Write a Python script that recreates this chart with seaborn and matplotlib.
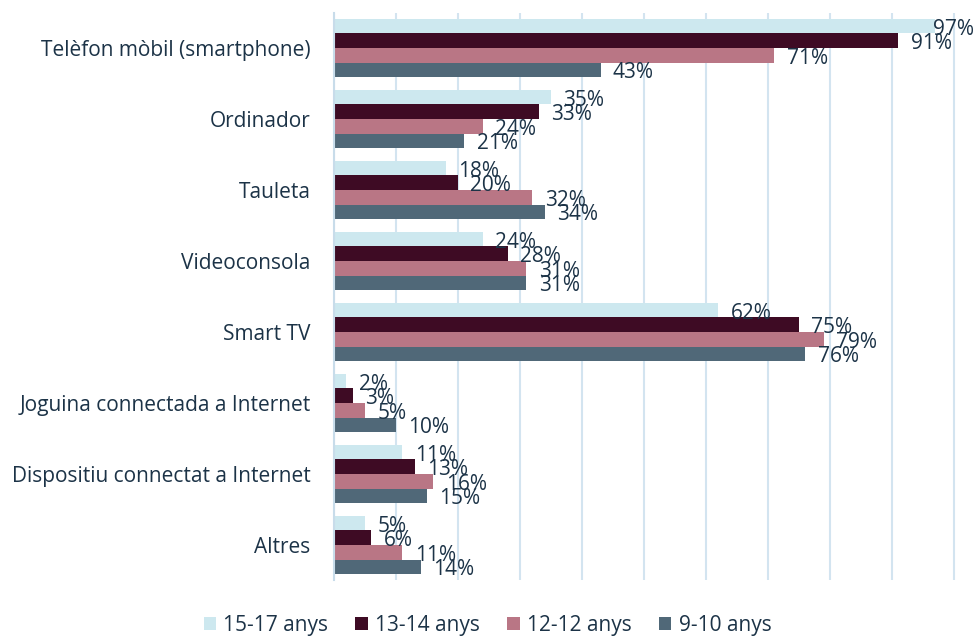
import matplotlib
matplotlib.use("Agg")
import matplotlib.pyplot as plt
import pandas as pd
import seaborn as sns

# data (percent)
devices = ["Telèfon mòbil (smartphone)", "Ordinador", "Tauleta", "Videoconsola",
           "Smart TV", "Joguina connectada a Internet",
           "Dispositiu connectat a Internet", "Altres"]
ages = ["15-17 anys", "13-14 anys", "12-12 anys", "9-10 anys"]
age_15_17 = [97, 35, 18, 24, 62, 2, 11, 5]
age_13_14 = [91, 33, 20, 28, 75, 3, 13, 6]
age_12_12 = [71, 24, 32, 31, 79, 5, 16, 11]
age_9_10 = [43, 21, 34, 31, 76, 10, 15, 14]
colors = ["#cde8ef", "#3e0b24", "#b97685", "#506878"]

rows = []
for age, vals in zip(ages, [age_15_17, age_13_14, age_12_12, age_9_10]):
    for d, v in zip(devices, vals):
        rows.append({"device": d, "age": age, "pct": v})
df = pd.DataFrame(rows)

sns.set_theme(style="white")
plt.rcParams["font.family"] = ["Open Sans", "DejaVu Sans"]
txt = "#1c3347"
fs = 15

fig = plt.figure(figsize=(9.75, 6.42), dpi=100)
ax = fig.add_axes([0.3426, 0.0958, 0.6574, 0.8847])
sns.barplot(data=df, y="device", x="pct", hue="age", order=devices, hue_order=ages,
            palette=colors, orient="h", width=0.82, ax=ax, legend=True,
            saturation=1, linewidth=0)

ax.set_xlim(0, 103.4)
ax.set_ylim(7.5, -0.5)
ax.set_xticks(range(0, 101, 10))
ax.set_xticklabels([])
ax.tick_params(axis="x", length=0)
ax.tick_params(axis="y", length=0, labelsize=fs, labelcolor=txt, pad=17)
ax.grid(axis="x", color="#d3e4f0", linewidth=1.5)
ax.set_axisbelow(True)
for s in ["top", "right", "bottom"]:
    ax.spines[s].set_visible(False)
ax.spines["left"].set_color("#c8dcea")
ax.spines["left"].set_linewidth(1.5)
ax.set_xlabel("")
ax.set_ylabel("")

# value labels
for cont in ax.containers:
    for p in cont:
        w = p.get_width()
        y = p.get_y() + p.get_height() / 2 + 0.04
        if w + 2.2 > 96:
            ax.text(103.3, y, f"{w:.0f}%", ha="right", va="center",
                    fontsize=fs, color=txt)
        else:
            ax.text(w + 2.0, y, f"{w:.0f}%", ha="left", va="center",
                    fontsize=fs, color=txt)

handles, labels = ax.get_legend_handles_labels()
ax.legend_.remove()
fig.legend(handles, labels, loc="lower center", ncol=4, frameon=False,
           bbox_to_anchor=(0.5, -0.02), fontsize=fs, labelcolor=txt,
           handlelength=0.6, handleheight=0.6, handletextpad=0.35, columnspacing=1.3)

fig.savefig("out.png", dpi=100)
